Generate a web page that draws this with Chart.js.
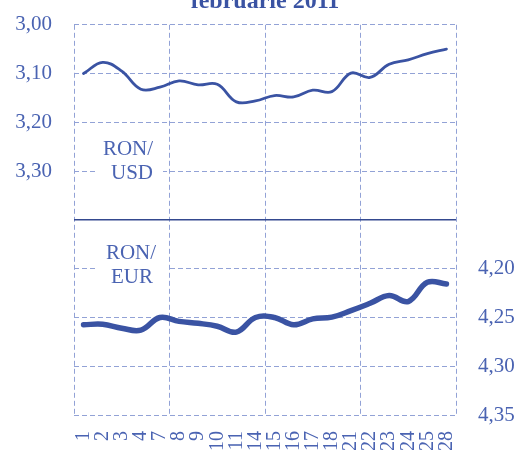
<!DOCTYPE html>
<html>
<head>
<meta charset="utf-8">
<script src="https://cdn.jsdelivr.net/npm/chart.js@4/dist/chart.umd.min.js"></script>
<style>
  html, body { margin: 0; padding: 0; background: #fff; overflow: hidden; width: 516px; height: 450px; }
  #wrap { position: absolute; left: 0; top: -20px; width: 516px; height: 470px; }
</style>
</head>
<body>
<div id="wrap"><canvas id="chart"></canvas></div>
<script>
// zilele lucratoare din februarie 2011
const days = ['1', '2', '3', '4', '7', '8', '9', '10', '11', '14', '15', '16', '17', '18', '21', '22', '23', '24', '25', '28'];
const ronUsd = [3.100, 3.077, 3.095, 3.132, 3.128, 3.115, 3.123, 3.122, 3.158, 3.156,
                3.145, 3.148, 3.134, 3.137, 3.099, 3.108, 3.081, 3.072, 3.059, 3.050];
const ronEur = [4.2575, 4.257, 4.261, 4.263, 4.250, 4.254, 4.256, 4.259, 4.265, 4.250,
                4.250, 4.2575, 4.2515, 4.2497, 4.243, 4.2355, 4.2276, 4.2337, 4.214, 4.2157];
const usdTicks = [3.00, 3.10, 3.20, 3.30];
const eurTicks = [4.20, 4.25, 4.30, 4.35];

const BLUE = '#3a53a3';
const TEXT = '#4a63b2';
const GRID = '#92a2d6';
const SERIF = "'Liberation Serif', 'DejaVu Serif', serif";

const fmt = (v) => v.toFixed(2).replace('.', ',');
const shown = (list, v) => list.some((t) => Math.abs(t - v) < 1e-6);
const isDivider = (c) => c.tick && Math.abs(c.tick.value - 3.40) < 1e-6;

// etichetele RON/USD si RON/EUR, cu fond alb peste grila
const pairLabels = {
  id: 'pairLabels',
  beforeDatasetsDraw(chart) {
    const { ctx, chartArea, scales } = chart;
    const cx = chartArea.left + 56;
    const yUsd = scales.y.getPixelForValue(3.30);
    const yEur = scales.y2.getPixelForValue(4.20);
    ctx.save();
    ctx.fillStyle = '#fff';
    ctx.fillRect(cx - 33, yUsd - 33, 66, 47);
    ctx.fillRect(cx - 32, yEur - 26, 69, 47);
    ctx.fillStyle = TEXT;
    ctx.font = `21px ${SERIF}`;
    ctx.textAlign = 'center';
    ctx.textBaseline = 'middle';
    ctx.fillText('RON/', cx - 2, yUsd - 22);
    ctx.fillText('USD', cx + 2, yUsd + 2);
    ctx.fillText('RON/', cx + 1, yEur - 15);
    ctx.fillText('EUR', cx + 2, yEur + 9);
    ctx.restore();
  },
};

new Chart(document.getElementById('chart'), {
  type: 'line',
  data: {
    labels: days,
    datasets: [
      {
        label: 'RON/USD',
        data: ronUsd,
        yAxisID: 'y',
        borderColor: BLUE,
        borderWidth: 2.8,
        tension: 0.4,
        pointRadius: 0,
        borderCapStyle: 'round',
      },
      {
        label: 'RON/EUR',
        data: ronEur,
        yAxisID: 'y2',
        borderColor: BLUE,
        borderWidth: 5.5,
        tension: 0.4,
        pointRadius: 0,
        borderCapStyle: 'round',
      },
    ],
  },
  options: {
    responsive: true,
    maintainAspectRatio: false,
    animation: false,
    layout: { padding: { left: 14, right: 0, top: 0, bottom: 0 } },
    plugins: {
      legend: { display: false },
      tooltip: { enabled: false },
      title: {
        display: true,
        text: 'februarie 2011',
        fullSize: false,
        color: BLUE,
        font: { family: SERIF, size: 24, weight: 'bold' },
        padding: { top: 7, bottom: 9 },
      },
    },
    scales: {
      x: {
        offset: true,
        afterFit: (s) => { s.height = 35; },
        grid: {
          offset: true,
          drawTicks: false,
          color: (c) => (c.index === undefined || c.index % 5 === 0 ? GRID : 'rgba(0,0,0,0)'),
        },
        border: { display: false, dash: [5, 3] },
        ticks: {
          autoSkip: false,
          maxRotation: 90,
          minRotation: 90,
          padding: 16,
          color: TEXT,
          font: { family: SERIF, size: 20 },
        },
      },
      y: {
        position: 'left',
        reverse: true,
        min: 3.00,
        max: 3.80,
        afterFit: (s) => { s.width = 60; },
        ticks: {
          stepSize: 0.1,
          padding: 22,
          color: TEXT,
          font: { family: SERIF, size: 21 },
          callback: (v) => (shown(usdTicks, v) ? fmt(v) : ''),
        },
        grid: {
          drawTicks: false,
          color: (c) => (isDivider(c) ? '#34498f' : GRID),
          lineWidth: (c) => (isDivider(c) ? 1.5 : 1),
        },
        border: {
          display: false,
          dash: (c) => (isDivider(c) ? [] : [5, 3]),
        },
      },
      y2: {
        position: 'right',
        reverse: true,
        min: 3.95,
        max: 4.35,
        afterFit: (s) => { s.width = 60; },
        ticks: {
          stepSize: 0.05,
          padding: 22,
          color: TEXT,
          font: { family: SERIF, size: 21 },
          callback: (v) => (shown(eurTicks, v) ? fmt(v) : ''),
        },
        grid: { drawOnChartArea: false, drawTicks: false },
        border: { display: false },
      },
    },
  },
  plugins: [pairLabels],
});
</script>
</body>
</html>
